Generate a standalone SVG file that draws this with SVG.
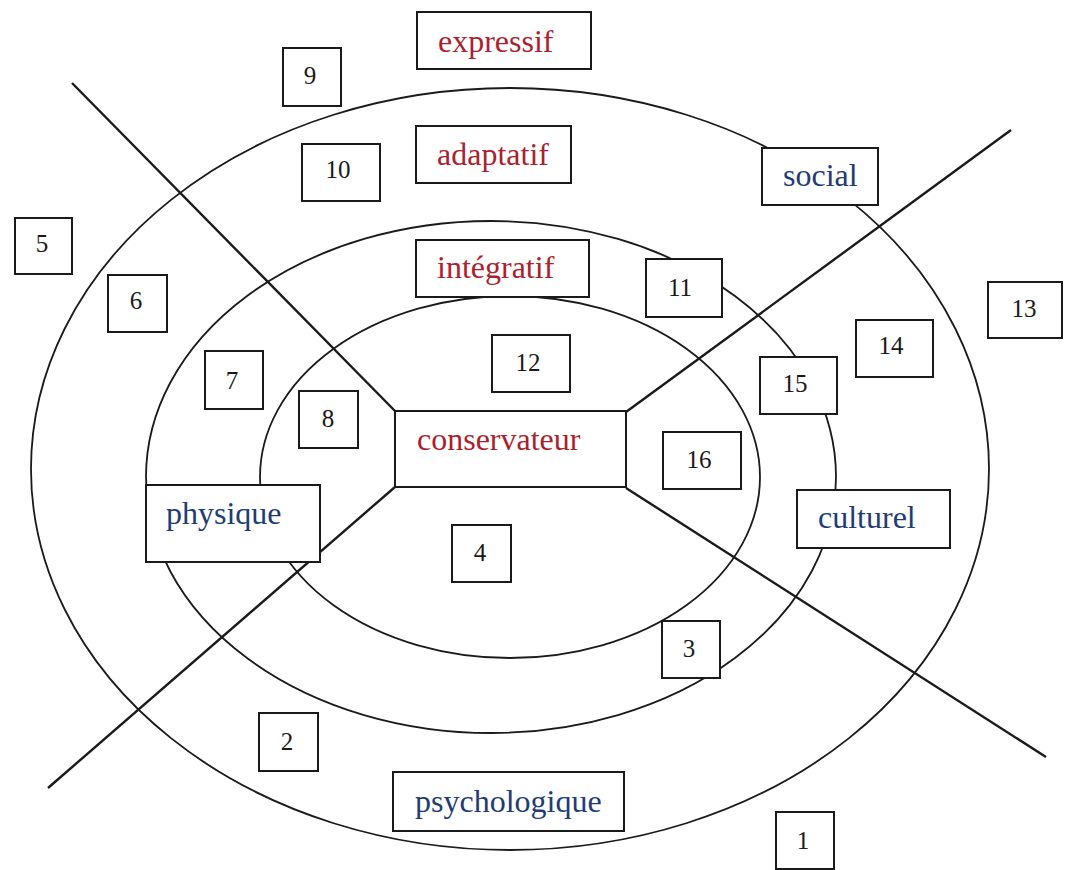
<svg xmlns="http://www.w3.org/2000/svg" width="1069" height="870" viewBox="0 0 1069 870">
  <style>
    .ring { fill: none; stroke: #1a1a1a; stroke-width: 1.8; }
    .axis { fill: none; stroke: #1a1a1a; stroke-width: 2.4; stroke-linejoin: miter; }
    .box { fill: #ffffff; stroke: #1a1a1a; stroke-width: 2; }
    .num { font-family: "Liberation Serif", "Times New Roman", serif; font-size: 25px; fill: #1a1a1a; text-anchor: middle; }
    .lab { font-family: "Liberation Serif", "Times New Roman", serif; font-size: 32px; }
    .red { fill: #ab1f2f; }
    .blue { fill: #1f3c74; }
  </style>
  <rect width="1069" height="870" fill="#ffffff"/>

  <g id="rings">
    <ellipse class="ring" cx="510" cy="469" rx="479" ry="381"/>
    <ellipse class="ring" cx="491" cy="477" rx="345" ry="256"/>
    <ellipse class="ring" cx="510" cy="477" rx="250" ry="181"/>
  </g>

  <g id="connectors">
    <polyline class="axis" points="72,83 395,411"/>
    <polyline class="axis" points="48,788 395,487"/>
    <polyline class="axis" points="1011,130 626,412"/>
    <polyline class="axis" points="1046,757 626,488"/>
  </g>

  <g id="node-expressif"><rect class="box" x="417" y="12" width="174" height="57"/><text class="lab red" x="438" y="52">expressif</text></g>
  <g id="node-adaptatif"><rect class="box" x="416" y="126" width="155" height="57"/><text class="lab red" x="437" y="165">adaptatif</text></g>
  <g id="node-integratif"><rect class="box" x="416" y="240" width="173" height="57"/><text class="lab red" x="437" y="278">intégratif</text></g>
  <g id="node-conservateur"><rect class="box" x="395" y="411" width="231" height="76"/><text class="lab red" x="417" y="450">conservateur</text></g>
  <g id="node-social"><rect class="box" x="762" y="148" width="116" height="57"/><text class="lab blue" x="783" y="186">social</text></g>
  <g id="node-physique"><rect class="box" x="146" y="485" width="174" height="77"/><text class="lab blue" x="166" y="524">physique</text></g>
  <g id="node-culturel"><rect class="box" x="797" y="490" width="153" height="58"/><text class="lab blue" x="818" y="528">culturel</text></g>
  <g id="node-psychologique"><rect class="box" x="393" y="772" width="231" height="59"/><text class="lab blue" x="415" y="812">psychologique</text></g>

  <g id="node-1"><rect class="box" x="776" y="812" width="58" height="57"/><text class="num" x="803" y="849">1</text></g>
  <g id="node-2"><rect class="box" x="259" y="713" width="59" height="58"/><text class="num" x="287" y="750">2</text></g>
  <g id="node-3"><rect class="box" x="662" y="621" width="58" height="57"/><text class="num" x="689" y="657">3</text></g>
  <g id="node-4"><rect class="box" x="452" y="525" width="59" height="57"/><text class="num" x="480" y="561">4</text></g>
  <g id="node-5"><rect class="box" x="15" y="218" width="57" height="56"/><text class="num" x="42" y="252">5</text></g>
  <g id="node-6"><rect class="box" x="108" y="275" width="59" height="57"/><text class="num" x="136" y="309">6</text></g>
  <g id="node-7"><rect class="box" x="205" y="351" width="58" height="58"/><text class="num" x="232" y="389">7</text></g>
  <g id="node-8"><rect class="box" x="299" y="391" width="59" height="57"/><text class="num" x="328" y="427">8</text></g>
  <g id="node-9"><rect class="box" x="283" y="48" width="58" height="58"/><text class="num" x="310" y="84">9</text></g>
  <g id="node-10"><rect class="box" x="302" y="144" width="78" height="57"/><text class="num" x="338" y="178">10</text></g>
  <g id="node-11"><rect class="box" x="646" y="259" width="76" height="58"/><text class="num" x="680" y="296">11</text></g>
  <g id="node-12"><rect class="box" x="492" y="335" width="78" height="57"/><text class="num" x="528" y="371">12</text></g>
  <g id="node-13"><rect class="box" x="988" y="282" width="74" height="56"/><text class="num" x="1024" y="317">13</text></g>
  <g id="node-14"><rect class="box" x="856" y="320" width="77" height="57"/><text class="num" x="891" y="354">14</text></g>
  <g id="node-15"><rect class="box" x="760" y="357" width="77" height="57"/><text class="num" x="795" y="392">15</text></g>
  <g id="node-16"><rect class="box" x="663" y="432" width="78" height="57"/><text class="num" x="699" y="468">16</text></g>
</svg>
